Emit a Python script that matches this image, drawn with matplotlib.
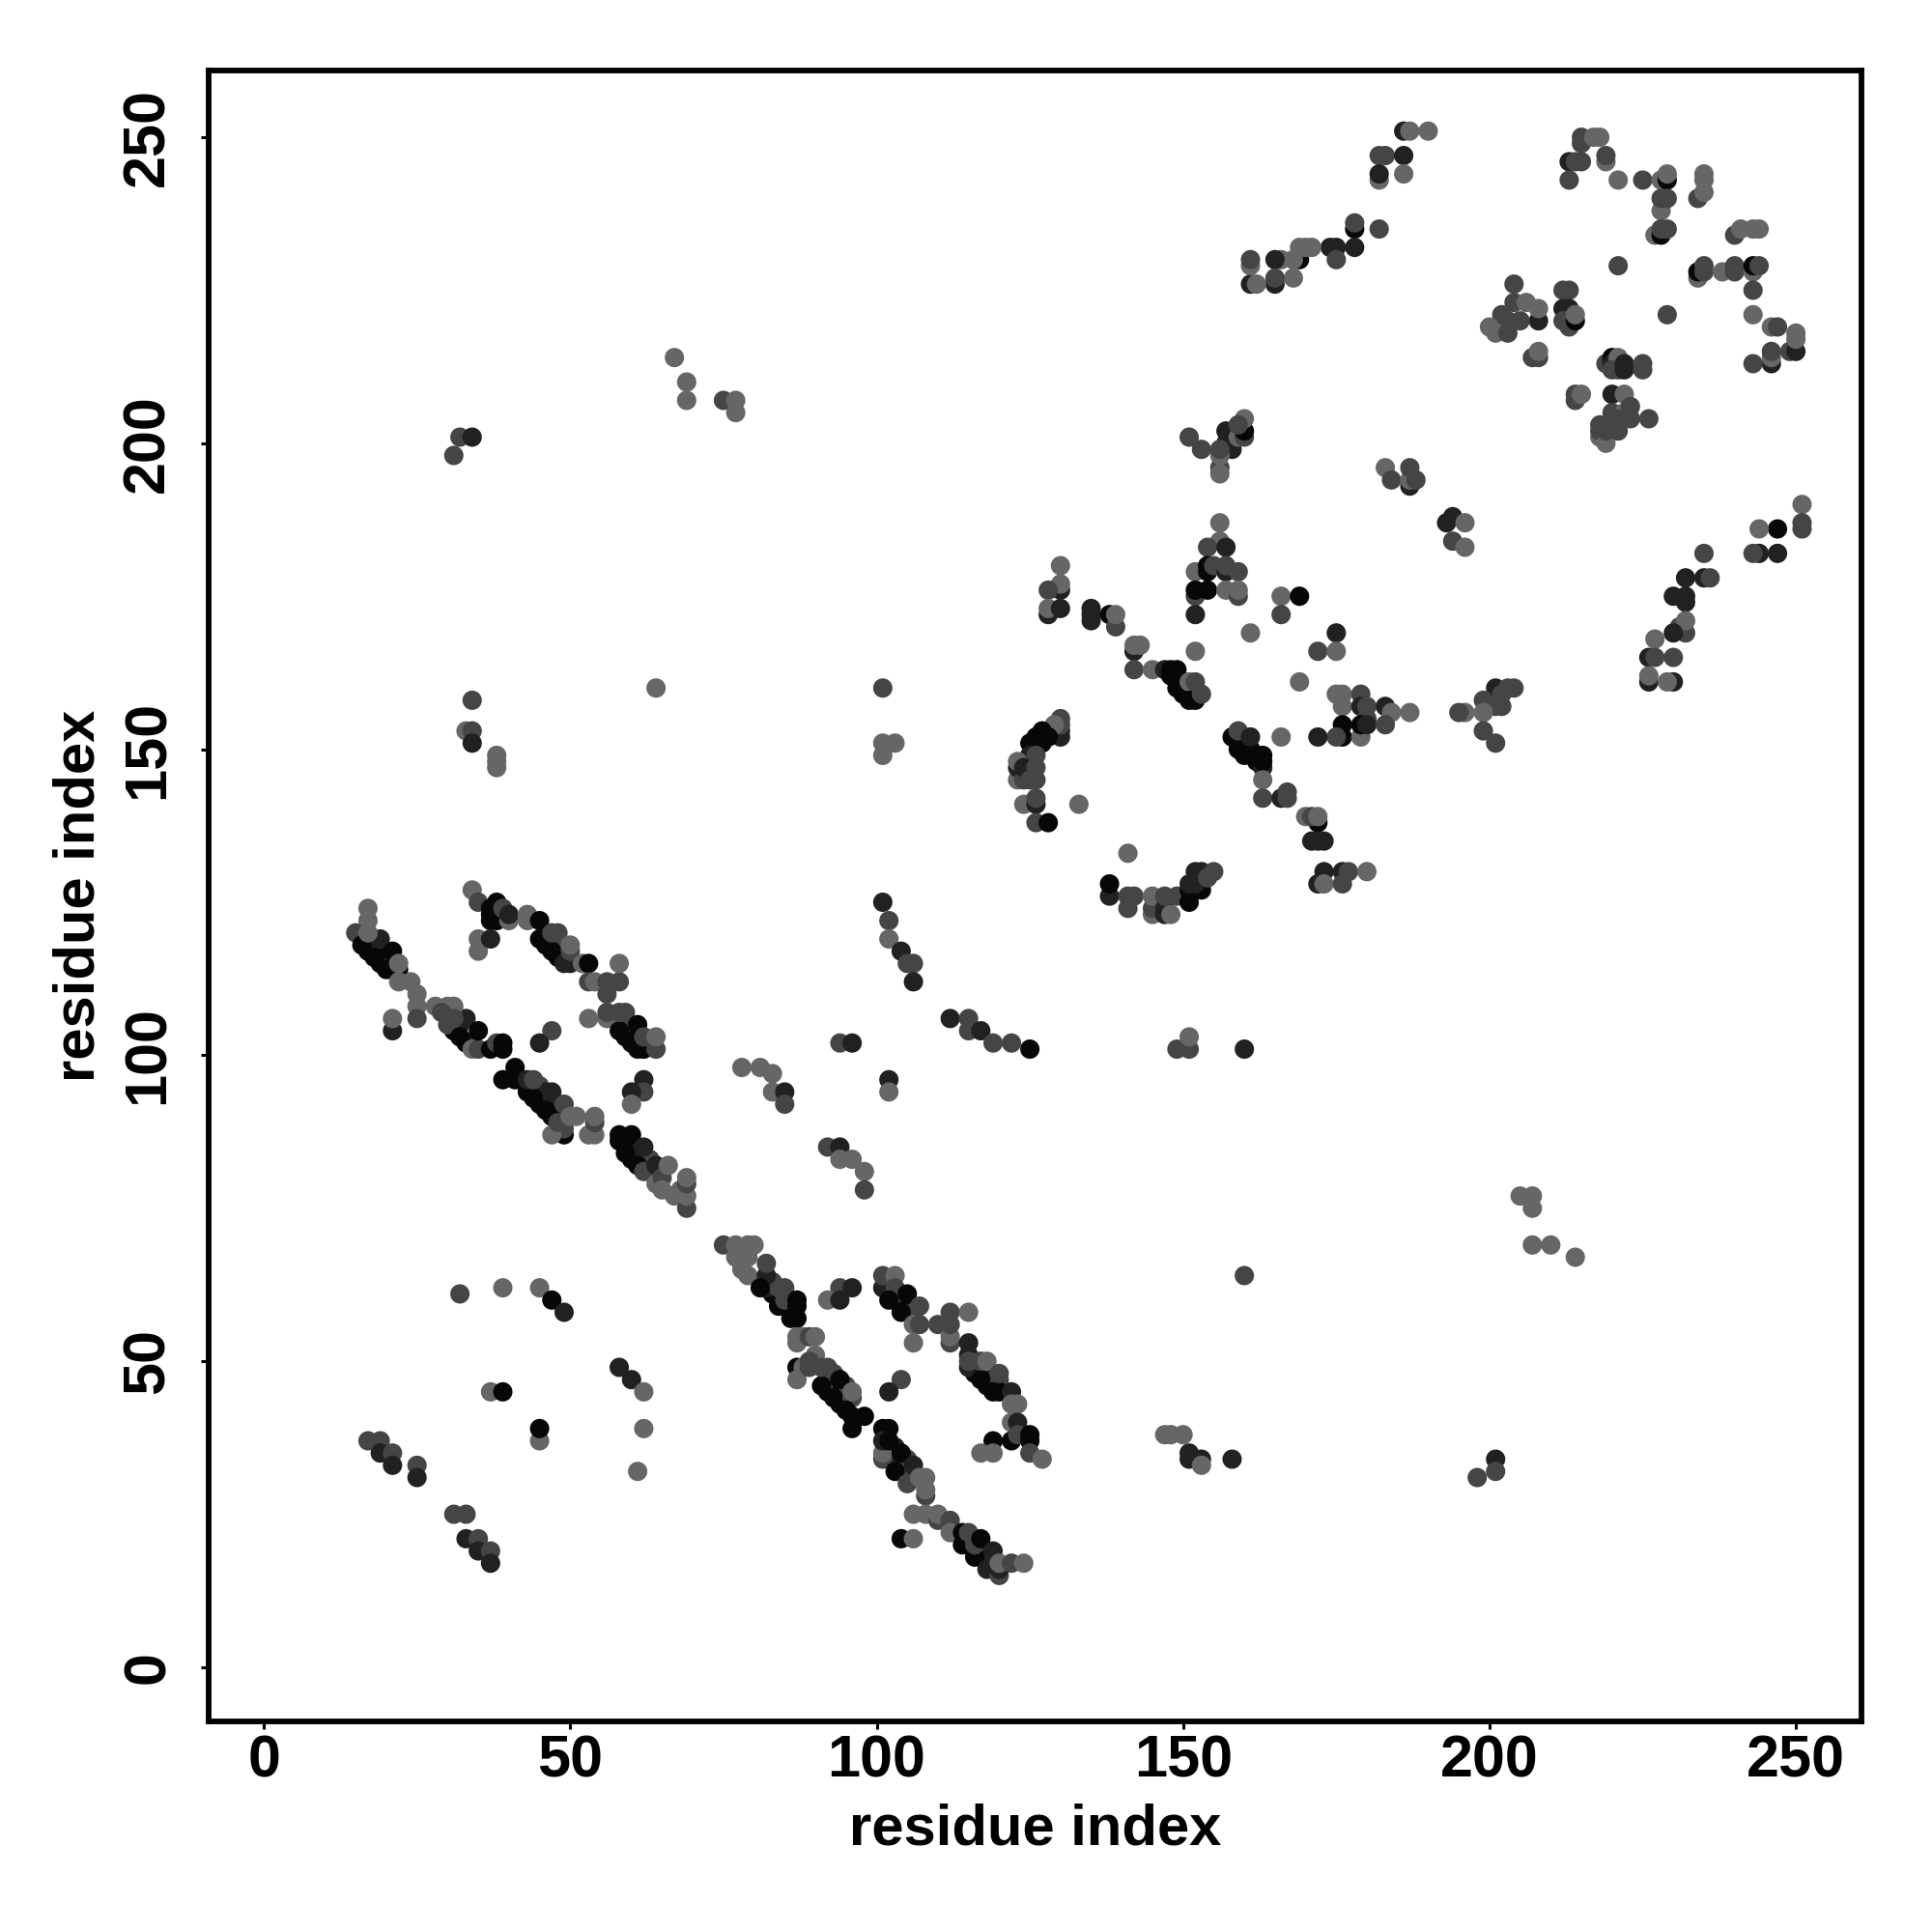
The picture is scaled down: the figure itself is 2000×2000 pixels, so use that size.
import numpy as np
import matplotlib
matplotlib.use("Agg")
import matplotlib.pyplot as plt

# grey levels of the contacts
B, D, M, L = 0.03, 0.13, 0.27, 0.40

# contacts as (residue i, residue j, grey), grouped by region of the map
ribbons = [
    (17,117,B),(19,115,B),(18,118,D),(20,116,B),(21,115,D),(33,102,B),(31,104,B),(34,102,D),(32,105,D),
    (38,122,B),(38,123,B),(39,123,D),(37,123,B),(46,118,B),(46,120,D),(47,118,B),(48,116,B),(48,118,M),(49,116,D),(49,117,M),
    (59,103,B),(60,104,D),(61,101,B),(61,103,B),(63,102,M),(59,106,M),
    (43,94,B),(42,96,B),(45,92,B),(45,95,M),(46,94,D),(47,93,D),(48,91,B),(48,92,D),(47,90,B),
    (59,85,B),(60,83,B),(60,86,B),(61,84,D),(62,83,D),(63,81,B),(63,83,M),
    (83,61,B),(82,62,D),(85,59,B),(83,63,M),(84,62,M),(86,60,D),(86,59,D),
    (103,60,B),(102,61,D),(104,60,B),(105,59,B),(103,61,M),(106,58,M),
    (115,51,D),(116,48,B),(116,49,B),(117,48,B),(118,46,B),(118,48,D),(119,46,B),(119,48,D),(120,47,M),
    (92,45,B),(93,46,B),(94,45,B),(95,44,B),(94,43,B),(95,43,B),(92,47,M),(93,48,M),(95,46,M),
    (103,34,B),(104,33,B),(105,32,B),(103,36,D),(104,34,D),(105,34,M),(106,32,M),(105,31,M),
    (115,20,B),(116,19,B),(117,18,B),(118,17,B),(119,17,D),(118,19,D),(117,20,D),(116,21,M),
    (127,151,B),(126,152,B),(149,161,B),(150,159,B),(150,161,M),(160,151,B),(161,150,B),(159,150,B),(160,150,B),(162,148,B),
]
strands_upper = [
    (17,124,L),(17,122,L),(15,120,M),(16,118,B),(18,116,B),(20,114,B),(19,119,D),(21,117,B),(17,120,L),(22,114,B),(22,115,L),
    (22,112,L),(24,112,L),(25,110,L),(25,108,L),(25,106,M),(21,104,D),(21,106,L),
    (28,108,L),(30,108,L),(30,105,M),(32,103,B),(33,106,D),(34,101,L),(35,101,M),(35,104,B),(37,101,B),(38,102,M),(39,101,B),(39,102,B),(31,108,L),(31,106,M),(29,107,M),
    (34,127,L),(35,125,M),(37,122,B),(37,124,B),(38,125,B),(39,124,M),(40,122,L),(40,123,D),
    (35,119,L),(35,117,L),(37,119,D),
    (43,122,L),(43,123,L),(45,122,B),(45,119,B),(47,117,B),(47,120,M),(48,120,M),(49,115,D),(50,115,D),(50,117,M),(50,118,L),(52,115,L),(53,115,B),
    (53,112,M),(54,112,L),(56,112,M),(58,112,M),(58,115,L),(56,110,M),
    (53,106,L),(56,106,L),(56,107,M),(58,104,B),(58,107,M),(59,107,M),(60,102,B),(61,105,B),(62,101,B),(62,103,M),(64,101,M),(64,103,L),
    (47,104,M),(45,102,D),(62,96,D),(62,94,M),(60,94,D),(60,92,L),
    (41,98,B),(39,96,B),(41,96,B),(43,96,D),(44,93,B),(46,91,B),(44,96,M),(47,94,D),(49,87,B),(49,88,M),(47,87,L),(49,92,M),(48,89,M),(50,90,L),(51,90,L),
    (54,87,L),(53,87,L),(54,89,M),(54,90,L),
    (58,86,B),(58,87,B),(60,87,B),(59,84,B),(61,82,B),(62,85,D),(62,81,M),(64,82,D),(64,79,L),(65,80,M),(66,82,L),(65,78,L),(67,77,L),
    (69,75,M),(69,77,L),(68,78,L),(69,79,M),(69,80,L),
]
strands_lower = [
    (75,69,M),(77,69,L),(79,69,L),(80,69,L),(77,67,L),(79,67,L),(78,65,L),(79,64,L),(82,64,D),(82,66,M),(81,62,B),(84,59,B),(85,62,M),(85,60,M),(86,57,B),(87,57,B),(87,59,B),(87,60,B),
    (94,62,M),(96,62,D),(92,60,L),(94,60,D),
    (101,62,D),(101,64,M),(103,64,L),(103,62,M),(102,60,B),(104,58,B),(105,61,B),(106,56,L),(107,56,M),(107,59,M),(106,53,L),
    (110,56,M),(112,58,M),(112,53,M),(112,54,L),(112,56,M),(115,58,L),
    (115,53,D),(115,49,D),(115,50,M),(117,47,B),(117,50,M),(118,50,L),(119,45,B),(120,45,B),(120,48,M),(122,45,D),(122,43,L),(123,43,L),
    (122,40,L),(123,40,D),(122,37,B),(123,38,M),(125,37,B),(125,38,B),(125,35,M),(127,34,L),(119,37,B),(117,35,L),(119,35,L),
    (87,53,L),(87,54,L),(88,54,L),(89,54,M),(90,54,L),(87,49,B),(88,49,L),(87,47,L),(90,51,L),(89,49,M),(89,50,M),(91,46,B),(91,49,M),(92,49,M),
    (93,44,B),(94,47,B),(96,44,M),(96,45,L),(95,42,B),(96,41,B),(98,41,B),(96,39,B),(104,47,M),(102,45,D),
    (101,39,B),(102,39,B),(101,34,M),(101,35,L),(101,37,D),(102,37,B),(103,32,B),(104,35,B),(106,33,D),(105,30,M),(107,31,L),(108,28,M),(108,29,L),(108,31,L),
    (106,25,L),(108,25,L),(110,24,M),(110,25,L),(112,24,M),(112,22,L),(104,21,B),(106,21,L),
    (114,20,B),(114,22,B),(115,22,M),(116,18,B),(116,20,M),(117,21,B),(118,16,D),(119,19,D),(120,15,M),(120,16,D),(120,17,L),(122,17,M),(124,17,L),
]
middle_cluster = [
    (156,187,L),(156,184,L),(154,183,M),(157,183,D),(152,179,L),(154,179,B),(154,180,B),(155,180,M),(157,179,D),(157,180,M),(159,179,M),
    (152,175,M),(152,176,B),(154,176,B),(157,176,L),(159,175,M),(159,176,L),(152,172,D),
    (166,175,L),(169,175,B),(166,172,M),(161,169,L),(175,169,D),(172,166,M),(175,166,L),(152,166,L),(169,161,L),
    (130,180,L),(130,176,D),(130,177,L),(128,176,M),(128,172,D),(128,173,L),(130,173,D),
    (135,171,D),(135,172,D),(135,173,D),(138,172,B),(139,170,M),(139,172,L),
    (142,166,D),(142,167,L),(143,167,L),(142,163,M),(145,163,L),(147,163,D),(148,162,B),(148,163,B),(149,163,B),(149,160,B),(151,161,L),(152,161,M),(151,158,B),(152,158,B),(153,159,M),
    (175,159,L),(176,159,L),(176,157,L),(179,159,M),(179,157,D),(180,157,M),(180,155,M),(176,152,B),(176,154,B),(175,152,M),(179,152,L),(179,154,B),(180,154,D),(172,152,D),
    (183,157,D),(184,156,L),(183,154,M),(187,156,L),(166,152,L),
    (158,152,B),(159,153,M),(161,152,D),(160,149,B),(162,149,B),(163,147,D),(163,148,B),(163,149,B),(163,145,L),(163,142,M),(166,142,D),(167,142,M),(167,143,M),
    (170,139,L),(172,138,B),(171,139,M),(172,139,L),(171,135,D),(172,135,D),(173,135,D),
    (173,130,D),(176,130,D),(177,130,M),(180,130,L),(172,128,D),(173,128,L),(176,128,M),
    (130,152,D),(130,153,D),(130,154,M),(130,155,M),(129,154,L),(127,152,B),(127,153,B),(128,152,B),(125,151,B),(126,151,B),(125,149,D),(126,149,M),
    (123,145,L),(123,147,D),(123,148,L),(124,145,M),(124,147,D),(125,145,M),(126,145,M),(126,147,M),(124,141,L),(126,141,D),(126,142,M),(126,138,M),(128,138,B),(133,141,L),
    (141,133,L),(138,126,D),(138,128,B),(141,124,M),(141,126,M),(142,126,M),(145,123,L),(145,124,M),(145,126,L),(147,123,D),(147,124,D),(147,126,M),(148,123,L),(149,126,M),
    (151,125,B),(151,127,B),(151,128,D),(153,127,B),(152,128,D),(152,130,D),(153,130,D),(154,129,M),(155,130,M),
]
upper_right = [
    (186,251,D),(187,251,L),(190,251,L),(182,247,M),(183,247,M),(186,247,D),(182,243,L),(182,244,D),(186,244,L),
    (178,235,B),(178,236,M),(182,235,M),(178,232,D),(174,232,D),(175,232,D),(175,230,M),
    (169,230,B),(168,230,L),(169,232,L),(170,232,L),(171,232,L),(166,230,L),(165,230,D),(168,227,L),(165,226,D),(165,227,M),(161,226,D),(162,226,L),(161,229,L),(161,230,M),
    (215,249,M),(215,250,M),(217,250,L),(218,250,L),(219,246,L),(219,247,M),(213,246,D),(214,246,M),(215,246,M),(213,243,M),(221,243,L),(225,243,M),
    (228,243,L),(229,243,B),(229,244,L),(228,238,L),(228,240,M),(229,240,M),(227,234,L),(228,234,B),(228,235,M),(229,235,M),
    (235,243,L),(235,244,L),(234,240,M),(235,241,L),(240,234,M),(241,235,L),(243,235,L),(244,235,L),
    (221,229,M),(234,227,L),(234,228,B),(235,228,M),(235,229,M),(238,228,L),(240,228,M),(240,229,M),(243,228,L),(243,229,B),(244,229,M),(243,225,M),(243,221,L),
    (246,219,L),(247,219,M),(249,215,M),(250,215,D),(250,217,L),(250,218,L),(246,213,D),(246,214,L),(246,215,M),(243,213,M),(229,221,M),
    (204,226,M),(204,223,M),(206,223,L),(208,220,D),(208,222,L),(205,220,M),(202,219,M),(202,221,M),(203,220,M),(200,219,L),(201,218,L),(203,218,M),
    (212,225,M),(213,225,M),(212,222,D),(213,222,D),(212,220,M),(213,219,M),(214,220,B),(214,221,L),(207,214,M),(208,214,M),(208,215,L),
    (219,213,M),(220,214,B),(220,213,D),(221,214,L),(220,212,M),(221,212,M),(222,212,D),(222,213,D),(225,212,M),(225,213,M),
    (214,207,M),(214,208,M),(215,208,L),(220,208,D),(222,208,L),(220,205,M),(222,205,L),(223,206,M),(221,204,M),(223,204,M),(226,204,M),
    (218,201,L),(218,202,M),(218,203,M),(219,200,L),(219,202,M),(220,203,M),(221,202,M),
    (157,200,D),(157,202,D),(158,199,D),(156,196,M),(156,195,L),(156,198,L),(156,199,M),(153,199,M),(151,201,M),(159,201,L),(160,201,M),(160,202,B),(160,204,L),(159,203,M),
    (183,196,L),(184,194,M),(187,193,D),(187,194,L),(187,196,M),(188,194,M),
    (193,187,D),(194,188,D),(196,187,L),(194,184,M),(196,183,L),
    (251,190,L),(251,187,M),(251,186,M),(247,186,B),(244,186,L),(247,182,D),(244,182,D),(243,182,M),(235,182,M),(232,178,D),(235,178,D),(236,178,M),
    (230,175,D),(232,174,D),(232,175,D),(232,169,M),(231,170,M),(232,171,L),(230,169,D),(227,168,L),(230,165,M),(226,165,D),(227,165,M),(226,161,D),(226,162,L),(230,161,D),(229,161,L),
    (201,160,D),(202,159,M),(203,160,M),(204,160,M),(201,157,M),(202,157,M),(200,157,M),(199,158,M),(199,156,L),(196,156,L),(195,156,M),(199,153,M),(201,151,M),
]
scattered = [
    (67,214,L),(69,210,L),(69,207,L),(75,207,M),(77,207,L),(77,205,L),(31,198,M),(32,201,M),(34,201,D),
    (64,160,L),(101,160,M),(101,151,L),(103,151,L),(101,149,L),(34,158,M),(33,153,L),(34,153,M),(34,151,D),(38,149,L),(38,148,L),(38,147,L),
    (101,125,D),(102,122,M),(102,119,L),(104,117,D),(105,115,M),(106,115,M),(106,112,D),
    (112,106,D),(115,106,M),(115,104,M),(117,104,D),(119,102,M),(122,102,M),(125,101,B),(94,102,M),(96,102,D),(102,96,D),(102,94,L),
    (78,98,L),(81,98,L),(83,97,L),(83,94,L),(85,94,D),(85,92,M),(92,85,M),(94,85,D),(94,83,L),(96,83,L),(98,81,L),(98,78,M),
    (205,77,L),(207,77,L),(207,75,L),(207,69,L),(210,69,L),(214,67,L),(160,64,M),(149,101,M),(151,101,M),(151,103,L),(160,101,D),
    (32,61,M),(39,62,L),(45,62,L),(47,60,B),(49,58,D),(58,49,D),(60,47,D),(62,45,L),(62,39,L),(61,32,L),
    (37,45,L),(39,45,B),(45,37,L),(45,39,B),
    (17,37,M),(19,37,M),(19,35,D),(21,35,M),(21,33,D),(25,33,M),(25,31,D),
    (31,25,M),(33,25,M),(33,21,D),(35,21,M),(35,19,D),(37,19,M),(37,17,D),
    (147,38,L),(148,38,L),(150,38,L),(151,35,D),(151,34,D),(153,34,D),(153,33,L),(158,34,D),(198,31,M),(201,34,D),(201,32,M),
]
ticks = [0, 50, 100, 150, 200, 250]

plt.rcParams['font.family'] = ['Liberation Sans', 'DejaVu Sans']
plt.rcParams['font.weight'] = 'bold'

fig = plt.figure(figsize=(10, 10), dpi=200)
ax = fig.add_axes([216/2000, 1-1782/2000, (1927-216)/2000, (1782-73)/2000])

for region in [ribbons, strands_upper, strands_lower, middle_cluster, upper_right, scattered]:
    i, j, grey = np.array(region).T
    ax.scatter(i, j, c=grey, cmap='gray', vmin=0, vmax=1, s=52, linewidths=0, zorder=3)

ax.set_xlim(-9.0, 260.7)
ax.set_ylim(-8.85, 260.9)
ax.set_xticks(ticks)
ax.set_yticks(ticks)
ax.tick_params(length=3, width=1.1, labelsize=22)
ax.tick_params(axis='x', pad=2)
ax.tick_params(axis='y', pad=9)
plt.setp(ax.get_yticklabels(), rotation=90, va='center')
for side in ax.spines.values():
    side.set_linewidth(2.1)
ax.set_xlabel("residue index", fontsize=21.5, fontweight='bold', labelpad=5)
ax.set_ylabel("residue index", fontsize=21.5, fontweight='bold', labelpad=6)

fig.savefig("out.png", dpi=200)
